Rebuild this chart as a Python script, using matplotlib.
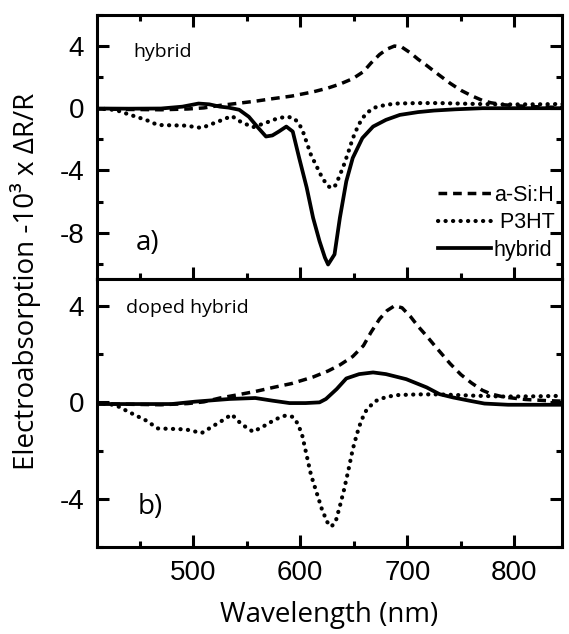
import numpy as np
import matplotlib
matplotlib.use("Agg")
import matplotlib.pyplot as plt
from matplotlib.ticker import MultipleLocator

plt.rcParams['font.family'] = ['Liberation Sans', 'DejaVu Sans']
plt.rcParams['axes.unicode_minus'] = False

# reference spectra (same in both panels)
wl_asi = [410, 440, 470, 495, 510, 525, 540, 558, 575, 592, 612, 626, 637, 649, 659, 666,
          674, 681, 688, 695, 703, 710, 718, 727, 740, 750, 760, 770, 778, 790, 810, 830, 845]
asi = [-0.05, -0.08, -0.1, -0.05, 0.02, 0.18, 0.3, 0.45, 0.62, 0.78, 1.05, 1.3, 1.55, 1.9, 2.35, 2.9,
       3.45, 3.8, 4.0, 3.92, 3.55, 3.15, 2.75, 2.27, 1.6, 1.15, 0.8, 0.5, 0.35, 0.22, 0.12, 0.07, 0.05]

wl_p3ht = [410, 428, 440, 456, 467, 480, 493, 508, 518, 527, 536, 545, 556, 567, 577, 586,
           593, 598, 602, 606, 610, 615, 620, 625, 629, 633, 637, 641, 645, 649, 653, 657,
           662, 670, 680, 690, 710, 730, 760, 790, 820, 845]
p3ht = [0.0, -0.12, -0.4, -0.75, -1.08, -1.1, -1.12, -1.27, -1.0, -0.76, -0.5, -0.9, -1.22, -0.96, -0.7, -0.55,
        -0.6, -0.9, -1.4, -2.2, -3.0, -3.7, -4.4, -4.95, -5.15, -4.95, -4.3, -3.6, -2.8, -1.95, -1.3, -0.75,
        -0.3, 0.05, 0.22, 0.3, 0.33, 0.33, 0.28, 0.24, 0.25, 0.27]

# panel a) hybrid
wl_hyb = [410, 440, 470, 490, 505, 515, 525, 533, 543, 552, 561, 568, 574, 580, 587, 593,
          599, 606, 612, 618, 623, 626, 632, 637, 643, 649, 658, 668, 680, 693, 710, 725,
          745, 770, 800, 845]
hyb = [-0.02, -0.03, -0.02, 0.1, 0.3, 0.25, 0.1, 0.04, -0.1, -0.55, -1.28, -1.82, -1.75, -1.5, -1.18, -1.5,
       -3.2, -5.1, -7.05, -8.55, -9.6, -10.05, -9.4, -7.05, -4.7, -3.2, -1.92, -1.18, -0.75, -0.43, -0.25, -0.15,
       -0.07, 0.0, 0.0, 0.0]

# panel b) doped hybrid
wl_dop = [410, 480, 502, 534, 558, 574, 590, 605, 618, 624, 634, 643, 655, 668, 680, 699,
          718, 730, 743, 760, 772, 794, 820, 845]
dop = [-0.07, -0.07, 0.03, 0.14, 0.18, 0.07, -0.03, -0.03, 0.0, 0.14, 0.55, 0.99, 1.17, 1.24, 1.17, 0.96,
       0.62, 0.34, 0.2, 0.05, -0.05, -0.1, -0.1, -0.1]

lw = 2.5
dash = (0, (2.5, 1.7))
dot = (0, (0.05, 1.75))

fig = plt.figure(figsize=(5.69, 6.34), dpi=100)
ax1 = fig.add_axes([0.170, 0.5595, 0.817, 0.417])
ax2 = fig.add_axes([0.170, 0.137, 0.817, 0.4225])

for ax in (ax1, ax2):
    ax.plot(wl_asi, asi, color='k', lw=lw, ls=dash, label='a-Si:H')
    ax.plot(wl_p3ht, p3ht, color='k', lw=3.0, ls=dot, dash_capstyle='round', label=' P3HT')
ax1.plot(wl_hyb, hyb, color='k', lw=lw + 0.2, label='hybrid')
ax2.plot(wl_dop, dop, color='k', lw=lw + 0.2)

ax1.set_ylim(-11, 6)
ax2.set_ylim(-6, 5.1)
for ax in (ax1, ax2):
    ax.set_xlim(410, 844)
    ax.xaxis.set_major_locator(MultipleLocator(100))
    ax.xaxis.set_minor_locator(MultipleLocator(50))
    ax.yaxis.set_major_locator(MultipleLocator(4))
    ax.yaxis.set_minor_locator(MultipleLocator(2))
    for s in ax.spines.values():
        s.set_linewidth(2.2)
    ax.tick_params(which='both', direction='in', width=2.2, labelsize=20, pad=9)
    ax.tick_params(which='major', length=8.5)
    ax.tick_params(which='minor', length=4.5)

ax1.tick_params(which='both', top=True, right=True, labelbottom=False)
ax2.tick_params(which='both', top=False, right=True)

ax1.text(0.078, 0.86, 'hybrid', transform=ax1.transAxes, fontsize=14,
         family='Open Sans', va='center')
ax2.text(0.063, 0.893, 'doped hybrid', transform=ax2.transAxes, fontsize=14,
         family='Open Sans', va='center')
ax1.text(0.085, 0.137, 'a)', transform=ax1.transAxes, fontsize=20,
         family='Open Sans', va='center')
ax2.text(0.088, 0.15, 'b)', transform=ax2.transAxes, fontsize=20,
         family='Open Sans', va='center')

ax1.legend(loc='lower right', bbox_to_anchor=(0.985, 0.07), frameon=False,
           fontsize=15.5, handlelength=2.45, handletextpad=0.15, labelspacing=0.3,
           borderpad=0, borderaxespad=0)

ax2.set_xlabel('Wavelength (nm)', family='Open Sans', fontsize=20, labelpad=11)
fig.text(0.045, 1 - 281 / 634, 'Electroabsorption -10³ x ΔR/R', family='Open Sans',
         fontsize=20, rotation=90, ha='center', va='center')

fig.savefig('out.png', dpi=100)
